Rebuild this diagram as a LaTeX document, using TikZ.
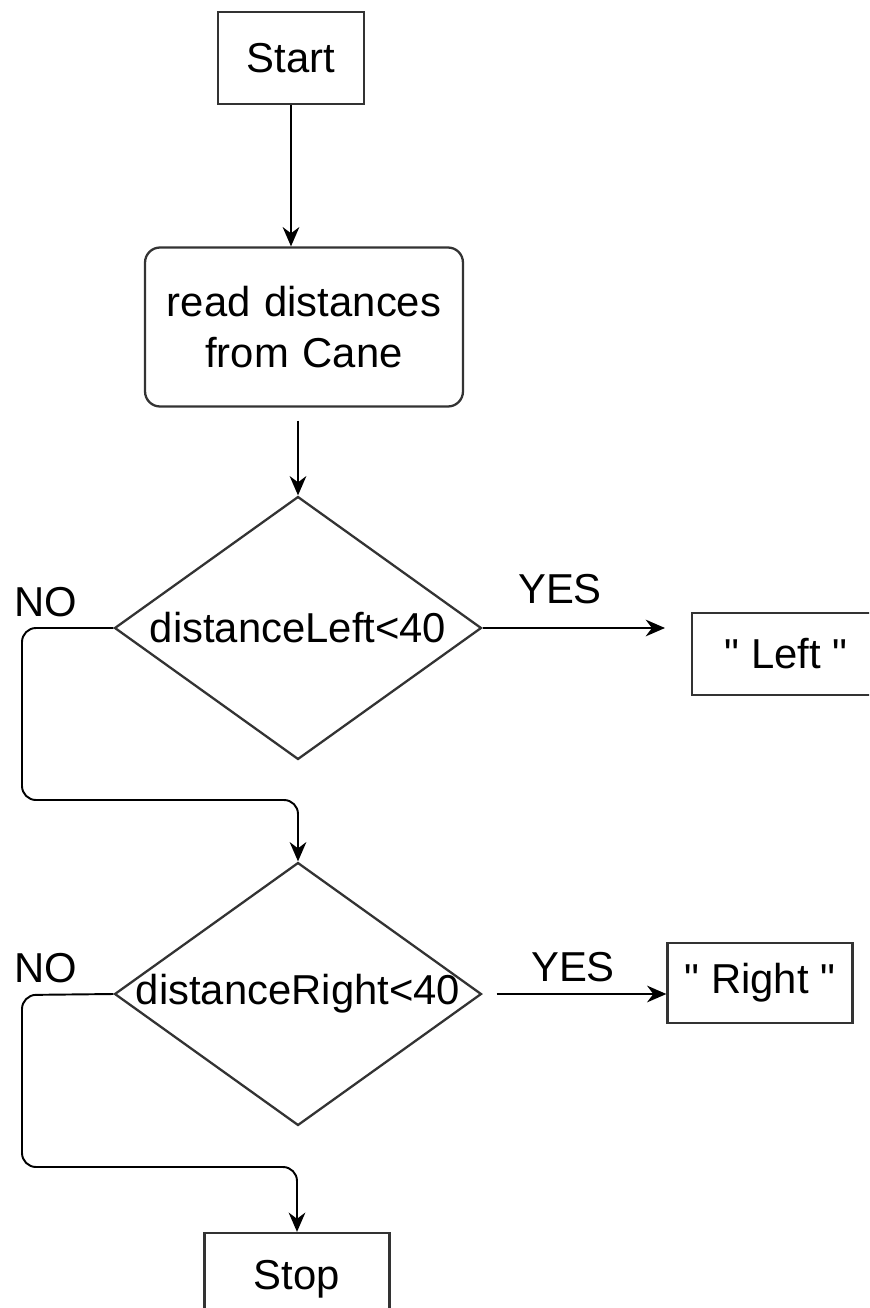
\documentclass[tikz,border=0pt]{standalone}
\usepackage{fontspec}
\setmainfont{Liberation Sans}
\usetikzlibrary{shapes.geometric,arrows.meta}

\begin{document}
\begin{tikzpicture}[x=0.02cm, y=-0.02cm,
		every node/.style={font=\fontsize{23.8}{29}\selectfont, inner sep=0pt},
		box/.style={rectangle, draw=black!80, line width=1.3pt},
		proc/.style={box, rounded corners=0.3cm, text width=5.8cm, align=center},
		dec/.style={diamond, draw=black!80, line width=1.3pt, aspect=1.4, minimum width=7.34cm, minimum height=5.26cm},
		arr/.style={-{Stealth[length=11pt, width=9.5pt]}, line width=1.1pt},
		no/.style={rounded corners=0.28cm}]
			\useasboundingbox (0,0) rectangle (869,1308);
			\clip (0,0) rectangle (869,1308);

			\node[box, minimum width=2.92cm, minimum height=1.84cm] (start) at (291,58) {Start};
			\node[proc, minimum width=6.36cm, minimum height=3.18cm] (read) at (304,327) {read distances\\from Cane};
			\node[dec] (dl) at (298,628) {\makebox[0pt]{distanceLeft<40}};
			\node[box, minimum width=3.76cm, minimum height=1.64cm] (outl) at (786,654) {\textquotedbl{} Left \textquotedbl};
			\node[dec] (dr) at (298,994) {\makebox[0pt]{distanceRight<40}};
			\node[box, minimum width=3.7cm, minimum height=1.6cm] (outr) at (760,983) {\textquotedbl{} Right \textquotedbl};
			\node[box, minimum width=3.7cm, minimum height=1.84cm] (stop) at (297,1279) {Stop};

			\node (yes1) at (560,589) {YES};
			\node (no1) at (46,602) {NO};
			\node (yes2) at (573,967) {YES};
			\node (no2) at (46,968) {NO};

			\coordinate (yesl) at (665,628);

			\draw[arr] (start.south) -- (start.south |- read.north);
			\draw[arr] (dl.north |- read.south) ++(0,13) -- (dl.north);
			\draw[arr] (dl.east) -- (yesl);
			\draw[arr, no] (dl.west) -- (22,628) -- (22,800) -- (298,800) -- (dr.north);
			\draw[arr] (dr.east) ++(14,0) -- (dr.east -| outr.west);
			\draw[arr, no] (dr.west) -- (22,995) -- (22,1167) -- (297,1167) -- (stop.north);
		\end{tikzpicture}
\end{document}
